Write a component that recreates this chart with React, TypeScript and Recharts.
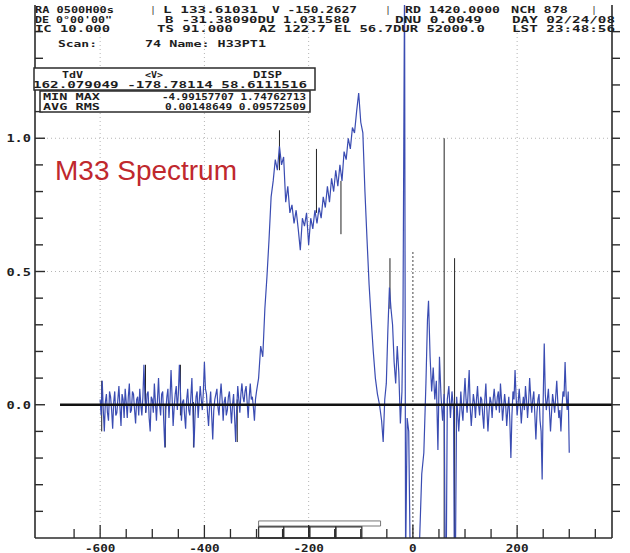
import React from 'react';
import { LineChart, Line, XAxis, YAxis, ReferenceLine, ReferenceArea } from 'recharts';

// ---------- data (velocity km/s, antenna temperature K) ----------
const baselineLeft: [number, number][] = [
  [-600, 0.02], [-598, -0.04], [-596, 0.09], [-594, -0.02], [-592, -0.1], [-590, 0.01], [-588, 0.04], [-586, -0.03],
  [-584, -0.06], [-582, 0.05], [-580, 0.03], [-578, -0.02], [-576, -0.09], [-574, 0.01], [-572, 0.05], [-570, -0.04],
  [-568, -0.03], [-566, 0.02], [-564, 0.07], [-562, -0.01], [-560, -0.08], [-558, 0.04], [-556, 0.02], [-554, -0.05],
  [-552, 0.06], [-550, 0.01], [-548, -0.05], [-546, 0.03], [-544, 0.08], [-542, -0.03], [-540, -0.02], [-538, 0.05],
  [-536, 0.04], [-534, -0.02], [-532, -0.07], [-530, 0.02], [-528, 0.03], [-526, -0.04], [-524, 0.06], [-522, 0.0],
  [-520, -0.04], [-518, 0.03], [-516, 0.15], [-514, 0.02], [-512, -0.03], [-510, 0.04], [-508, 0.05], [-506, -0.05],
  [-504, -0.1], [-502, 0.03], [-500, 0.02], [-498, -0.03], [-496, 0.08], [-494, 0.01], [-492, -0.06], [-490, 0.02],
  [-488, 0.1], [-486, 0.0], [-484, -0.04], [-482, 0.04], [-480, 0.05], [-478, -0.06], [-476, -0.16], [-474, -0.02],
  [-472, 0.03], [-470, 0.06], [-468, -0.05], [-466, 0.02], [-464, 0.13], [-462, 0.03], [-460, -0.08], [-458, -0.01],
  [-456, 0.04], [-454, 0.07], [-452, -0.02], [-450, 0.04], [-448, 0.15], [-446, 0.05], [-444, -0.06], [-442, 0.01],
  [-440, 0.02], [-438, -0.04], [-436, -0.09], [-434, 0.02], [-432, 0.06], [-430, -0.02], [-428, -0.04], [-426, 0.03],
  [-424, 0.1], [-422, -0.03], [-420, -0.16], [-418, -0.04], [-416, 0.03], [-414, 0.05], [-412, -0.05], [-410, 0.01],
  [-408, 0.07], [-406, 0.02], [-404, -0.02], [-402, 0.05], [-400, 0.16], [-398, 0.06], [-396, 0.04], [-394, -0.03],
  [-392, -0.08], [-390, 0.0], [-388, 0.05], [-386, -0.04], [-384, -0.13], [-382, -0.02], [-380, 0.02], [-378, 0.04],
  [-376, 0.06], [-374, -0.01], [-372, -0.04], [-370, 0.03], [-368, 0.08], [-366, 0.02], [-364, -0.06], [-362, 0.01],
  [-360, 0.03], [-358, -0.04], [-356, -0.02], [-354, 0.03], [-352, 0.05], [-350, -0.01], [-348, -0.07], [-346, 0.0],
  [-344, 0.04], [-342, -0.05], [-340, -0.14], [-338, -0.01], [-336, 0.07], [-334, 0.02], [-332, -0.03], [-330, 0.04],
  [-328, 0.08], [-326, 0.03], [-324, 0.01], [-322, 0.05], [-320, 0.07], [-318, 0.01], [-316, -0.05], [-314, 0.03],
  [-312, 0.08], [-310, 0.02], [-308, 0.03], [-306, -0.01], [-304, -0.06], [-302, 0.02], [-300, 0.05],
];

const lineProfile: [number, number][] = [
  [-296, 0.1], [-292, 0.22], [-288, 0.18], [-284, 0.36], [-280, 0.48], [-276, 0.62], [-272, 0.78], [-268, 0.84],
  [-264, 0.92], [-260, 0.88], [-256, 0.97], [-252, 0.9], [-248, 0.93], [-244, 0.76], [-240, 0.82], [-236, 0.72],
  [-232, 0.75], [-228, 0.68], [-224, 0.73], [-220, 0.66], [-216, 0.58], [-212, 0.7], [-208, 0.67], [-204, 0.72],
  [-200, 0.6], [-196, 0.7], [-192, 0.66], [-188, 0.73], [-184, 0.68], [-180, 0.74], [-176, 0.7], [-172, 0.78],
  [-168, 0.74], [-164, 0.82], [-160, 0.76], [-156, 0.85], [-152, 0.8], [-148, 0.88], [-144, 0.82], [-140, 0.9],
  [-136, 0.84], [-132, 0.95], [-128, 0.92], [-124, 1.0], [-120, 0.96], [-116, 1.04], [-112, 1.02], [-108, 1.1],
  [-104, 1.17], [-100, 1.06], [-96, 1.02], [-92, 0.8], [-88, 0.62], [-84, 0.45], [-80, 0.32], [-76, 0.2],
  [-72, 0.1], [-68, 0.04], [-64, 0.0],
];

const centreRegion: [number, number][] = [
  [-60, -0.06], [-57, -0.14], [-54, 0.02], [-51, 0.08], [-48, 0.28], [-45, 0.44], [-42, 0.36], [-39, 0.3],
  [-36, 0.16], [-33, 0.08], [-30, 0.22], [-27, 0.12], [-24, -0.07], [-21, 0.05], [-19, 0.33], [-16, 1.6],
  [-14, -0.6], [-11, -0.05], [-8, -0.1], [-5, -0.6], [-2, -0.6], [2, -0.6], [8, -0.6], [13, -0.5],
  [17, -0.26], [21, -0.18], [25, 0.08], [28, 0.32], [30, 0.39], [33, 0.18], [36, 0.05], [39, 0.14],
  [42, 0.02], [45, 0.09], [48, -0.17], [51, 0.18], [54, 0.03], [57, -0.06], [60, 0.04], [62, -0.6],
  [64, -0.6], [66, 0.02], [69, 0.07], [72, -0.05], [75, 0.05], [78, -0.02], [79.5, -0.6], [81.5, -0.6],
  [84, 0.03], [88, -0.1],
];

const baselineRight: [number, number][] = [
  [92, 0.05], [94, -0.02], [96, -0.06], [98, 0.03], [100, 0.1], [102, 0.02], [104, -0.03], [106, 0.05],
  [108, 0.13], [110, -0.01], [112, -0.08], [114, -0.02], [116, 0.04], [118, 0.01], [120, -0.05], [122, 0.02],
  [124, 0.07], [126, 0.0], [128, -0.04], [130, 0.03], [132, 0.02], [134, -0.04], [136, -0.09], [138, 0.02],
  [140, 0.08], [142, -0.02], [144, -0.1], [146, -0.03], [148, 0.03], [150, 0.01], [152, -0.05], [154, 0.02],
  [156, 0.06], [158, 0.01], [160, -0.02], [162, 0.03], [164, 0.05], [166, -0.03], [168, 0.08], [170, 0.02],
  [172, -0.06], [174, -0.01], [176, 0.04], [178, 0.0], [180, -0.08], [182, -0.02], [184, 0.03], [186, -0.06],
  [188, -0.2], [190, -0.04], [192, 0.05], [194, 0.02], [196, 0.13], [198, 0.03], [200, -0.04], [202, 0.01],
  [204, 0.06], [206, 0.0], [208, -0.07], [210, -0.01], [212, 0.03], [214, -0.02], [216, 0.07], [218, 0.02],
  [220, -0.05], [222, 0.01], [224, 0.1], [226, 0.03], [228, -0.03], [230, 0.02], [232, 0.05], [234, -0.04],
  [236, -0.13], [238, -0.03], [240, 0.02], [242, 0.04], [244, -0.06], [246, -0.1], [248, -0.28], [250, 0.02],
  [252, 0.23], [254, 0.04], [256, -0.02], [258, 0.02], [260, 0.06], [262, -0.02], [264, -0.1], [266, -0.03],
  [268, 0.04], [270, 0.01], [272, -0.03], [274, 0.03], [276, 0.09], [278, 0.01], [280, -0.05], [282, -0.02],
  [284, -0.1], [286, -0.01], [288, 0.05], [290, 0.03], [292, 0.16], [294, 0.04], [296, -0.02], [298, 0.05],
  [300, -0.18],
];

// secondary (dark) trace spikes: [velocity, low, high]
const darkSpikes: [number, number, number][] = [
  [-597, -0.1, 0.09], [-513, -0.03, 0.15], [-475, -0.16, 0.0], [-446, -0.04, 0.15], [-421, -0.16, 0.01],
  [-337, -0.14, 0.02], [-256, 0.88, 1.03], [-185, 0.72, 0.96], [-138, 0.64, 0.84], [-44, 0.36, 0.55],
  [60, -0.5, 1.0], [80, -0.5, 0.55],
];
const centreMarker: [number, number, number] = [0, -0.5, 0.58];
const zeroLineRange: [number, number] = [-677, 382];

// baseline-window boxes at the bottom of the plot
const windowBox = { x1: -296, x2: -62, y1: -0.455, y2: -0.436 };
const windowSegments: [number, number][] = [[-296, -248], [-248, -198], [-198, -148], [-148, -98]];
const windowSegmentY: [number, number] = [-0.5, -0.458];

// axes
const xDomain: [number, number] = [-725, 382];
const yDomain: [number, number] = [-0.5, 1.5];
const xTicks = [-650, -600, -550, -500, -450, -400, -350, -300, -250, -200, -150, -100, -50, 0, 50, 100, 150, 200, 250, 300, 350];
const xLabelTicks = [-600, -400, -200, 0, 200];
const yTicks = [-0.4, -0.3, -0.2, -0.1, 0, 0.1, 0.2, 0.3, 0.4, 0.5, 0.6, 0.7, 0.8, 0.9, 1.0, 1.1, 1.2, 1.3, 1.4];
const yLabelTicks = [0, 0.5, 1.0];
const gridX = [-600, -400, -200, 200];
const gridY = [0.5, 1.0];

// header text, one entry per row
const headerRows = [
  { y: 13, items: [
    { t: 'RA 0500H00s', x: 35, w: 79 }, { t: '|', x: 151, w: 4 }, { t: 'L 133.61031', x: 163, w: 95 },
    { t: 'V -150.2627', x: 272, w: 85 }, { t: '|', x: 386, w: 4 }, { t: 'RD 1420.0000', x: 405, w: 95 },
    { t: 'NCH 878', x: 511, w: 57 }, { t: '|', x: 592, w: 4 },
  ] },
  { y: 22.5, items: [
    { t: 'DE 0°00\'00"', x: 35, w: 77 }, { t: 'B -31.38090DU 1.031580', x: 165, w: 185 },
    { t: 'DNU 0.0049', x: 395, w: 87 }, { t: 'DAY 02/24/08', x: 512, w: 103 },
  ] },
  { y: 32, items: [
    { t: 'IC 10.000', x: 35, w: 75 }, { t: 'TS 91.000', x: 157, w: 76 },
    { t: 'AZ 122.7 EL 56.7DUR 52000.0', x: 259, w: 226 }, { t: 'LST 23:48:56', x: 512, w: 103 },
  ] },
  { y: 46.5, items: [{ t: 'Scan:', x: 58, w: 39 }, { t: '74 Name: H33PT1', x: 145, w: 121 }] },
];
const statsRows = [
  { y: 77.5, items: [{ t: 'TdV', x: 62, w: 21 }, { t: '<V>', x: 145, w: 18 }, { t: 'DISP', x: 253, w: 29 }] },
  { y: 87.8, items: [{ t: '162.079049 -178.78114 58.6111516', x: 33, w: 274 }] },
  { y: 100, items: [{ t: 'MIN MAX', x: 43, w: 57 }, { t: '-4.99157707 1.74762713', x: 162, w: 144 }] },
  { y: 109.8, items: [{ t: 'AVG RMS', x: 43, w: 57 }, { t: '0.00148649 0.09572509', x: 165, w: 141 }] },
];
const titleText = 'M33 Spectrum';

const spectrum = [...baselineLeft, ...lineProfile, ...centreRegion, ...baselineRight].map(([v, t]) => ({ v, t }));

const W = 630;
const H = 553;
const AXIS = '#2b2b2b';
const TEXT = '#1e1e1e';
const BLUE = '#3a4cb2';
const MONO = '"DejaVu Sans Mono", "Liberation Mono", monospace';
const LEFT_MARGIN = 3;

const isIn = (list: number[], v: number) => list.some((t) => Math.abs(t - v) < 1e-6);

function LeftTick(props: any) {
  const { x, y, payload } = props;
  const ax = x + LEFT_MARGIN;
  const v = payload.value as number;
  const major = isIn(yLabelTicks, v);
  const len = major ? 10 : 8;
  const label = v.toFixed(1);
  return (
    <g>
      <line x1={ax} x2={ax + len} y1={y} y2={y} stroke={AXIS} strokeWidth={1.4} />
      {major && (
        <text x={ax - 4} y={y + 4} textAnchor="end" fontFamily={MONO} fontWeight="bold" fontSize={10} fill={TEXT}
          textLength={label.length * 8.2} lengthAdjust="spacingAndGlyphs">{label}</text>
      )}
    </g>
  );
}

function RightTick(props: any) {
  const { x, y } = props;
  return <line x1={x} x2={x + 8} y1={y} y2={y} stroke={AXIS} strokeWidth={1.4} />;
}

function BottomTick(props: any) {
  const { x, y, payload } = props;
  const v = payload.value as number;
  const major = isIn(xLabelTicks, v);
  const len = major ? 13 : 9;
  const label = String(v);
  return (
    <g>
      <line x1={x} x2={x} y1={y} y2={y - len} stroke={AXIS} strokeWidth={1.3} />
      {major && (
        <text x={x} y={y + 14} textAnchor="middle" fontFamily={MONO} fontWeight="bold" fontSize={10} fill={TEXT}
          textLength={label.length * 7.6} lengthAdjust="spacingAndGlyphs">{label}</text>
      )}
    </g>
  );
}

type Row = { y: number; items: { t: string; x: number; w: number }[] };

function TextRow({ row, size }: { row: Row; size: number }) {
  return (
    <g transform={`translate(0 ${row.y}) scale(1 0.78)`}>
      <text y={0} fontFamily={MONO} fontWeight="bold" fontSize={size} fill={TEXT}>
        {row.items.map((it, i) => (
          <tspan key={i} x={it.x} y={0} textLength={it.w} lengthAdjust="spacingAndGlyphs">{it.t}</tspan>
        ))}
      </text>
    </g>
  );
}

export default function App() {
  return (
    <div style={{ position: 'absolute', left: 0, top: 0, width: W, height: H, background: '#fff' }}>
      <LineChart width={W} height={H} data={spectrum} margin={{ top: 5, right: 0, bottom: 0, left: 0 }}>
        <XAxis dataKey="v" type="number" domain={xDomain} allowDataOverflow ticks={xTicks} interval={0}
          height={15} tickSize={0} tickMargin={0} tickLine={false} tick={<BottomTick />}
          axisLine={{ stroke: AXIS, strokeWidth: 1.6 }} />
        <XAxis xAxisId="top" orientation="top" dataKey="v" type="number" domain={xDomain} allowDataOverflow
          height={0} tick={false} tickLine={false} axisLine={{ stroke: AXIS, strokeWidth: 1.6 }} />
        <YAxis type="number" domain={yDomain} allowDataOverflow ticks={yTicks} interval={0} width={35}
          tickSize={0} tickMargin={LEFT_MARGIN} tickLine={false} tick={<LeftTick />}
          axisLine={{ stroke: AXIS, strokeWidth: 1.6 }} />
        <YAxis yAxisId="right" orientation="right" type="number" domain={yDomain} allowDataOverflow ticks={yTicks}
          interval={0} width={18} tickSize={0} tickMargin={0} tickLine={false} tick={<RightTick />}
          axisLine={{ stroke: AXIS, strokeWidth: 1.6 }} />

        {gridX.map((g) => (
          <ReferenceLine key={'gx' + g} x={g} stroke="#b5b5b5" strokeDasharray="1 3" strokeWidth={1} />
        ))}
        {gridY.map((g) => (
          <ReferenceLine key={'gy' + g} y={g} stroke="#b5b5b5" strokeDasharray="1 3" strokeWidth={1} />
        ))}
        <ReferenceLine segment={[{ x: centreMarker[0], y: centreMarker[1] }, { x: centreMarker[0], y: centreMarker[2] }]}
          stroke="#444" strokeDasharray="2 2" strokeWidth={1} ifOverflow="visible" />

        <ReferenceArea x1={windowBox.x1} x2={windowBox.x2} y1={windowBox.y1} y2={windowBox.y2}
          fill="none" stroke="#777" strokeWidth={1} fillOpacity={0} ifOverflow="visible" />
        {windowSegments.map(([a, b]) => (
          <ReferenceArea key={'ws' + a} x1={a} x2={b} y1={windowSegmentY[0]} y2={windowSegmentY[1]}
            fill="none" stroke="#333" strokeWidth={1.3} fillOpacity={0} ifOverflow="visible" />
        ))}

        {darkSpikes.map(([v, lo, hi]) => (
          <ReferenceLine key={'ds' + v} segment={[{ x: v, y: lo }, { x: v, y: hi }]} stroke="#222" strokeWidth={1}
            ifOverflow="visible" />
        ))}

        <Line dataKey="t" type="linear" stroke={BLUE} strokeWidth={1.2} dot={false} isAnimationActive={false} />

        <ReferenceLine segment={[{ x: zeroLineRange[0], y: 0 }, { x: zeroLineRange[1], y: 0 }]} stroke="#111"
          strokeWidth={2.5} ifOverflow="visible" />
      </LineChart>

      <svg width={W} height={H} style={{ position: 'absolute', left: 0, top: 0, pointerEvents: 'none' }}>
        {headerRows.map((r, i) => <TextRow key={'h' + i} row={r} size={10.5} />)}
        <rect x={34} y={68} width={281} height={22} fill="#fff" stroke={AXIS} strokeWidth={1.5} />
        <rect x={40} y={91} width={270} height={21} fill="#fff" stroke={AXIS} strokeWidth={1.5} />
        {statsRows.map((r, i) => <TextRow key={'s' + i} row={r} size={10.5} />)}
        <text x={55} y={180} fontFamily='"Liberation Sans", Arial, sans-serif' fontSize={27} fill="#c0282d"
          textLength={182} lengthAdjust="spacingAndGlyphs">{titleText}</text>
      </svg>
    </div>
  );
}
